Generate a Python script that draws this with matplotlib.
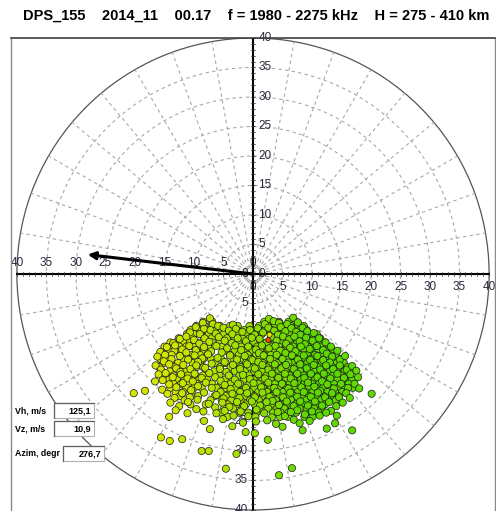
# Sky map of drift echoes
from matplotlib import pyplot as plt
from matplotlib.patches import Rectangle, Circle
from matplotlib.lines import Line2D
from matplotlib.colors import LinearSegmentedColormap
import numpy as np

# Header text
title = "DPS_155    2014_11    00.17    f = 1980 - 2275 kHz    H = 275 - 410 km"

# Grid values
rings = [5, 10, 15, 20, 25, 30, 35, 40]
ring_labels = [0, 5, 10, 15, 20, 25, 30, 35, 40]
spokes = [a for a in range(0, 360, 10) if a % 90 != 0]

# Drift result
vh = "125,1"
vz = "10,9"
azim = "276,7"
azim_deg = 276.7
arrow_len = 28.2

# Echo positions (x east, y north): dense rows of the core ...
echo_rows = [
    (-8.1, [-8.4, -6.9, 1.9, 3.2, 4.4, 6.0, 7.3]),
    (-8.8, [-9.6, -8.2, -7.0, -5.6, -3.9, -2.6, -0.6, 1.0, 2.5, 3.7, 5.1, 6.4, 7.6, 8.6]),
    (-9.5, [-10.6, -9.3, -8.0, -6.6, -5.3, -2.8, -1.5, -0.3, 0.9, 2.0, 3.2, 4.5, 5.6, 6.8, 7.9, 9.1]),
    (-10.2, [-11.2, -10.0, -8.9, -7.5, -5.0, -3.7, -2.4, -1.0, 0.2, 1.5, 3.9, 5.0, 6.2, 7.4, 8.5, 9.6, 10.8]),
    (-10.9, [-12.6, -11.4, -10.3, -8.3, -7.0, -4.4, -3.1, -1.8, -0.6, 0.8, 3.3, 4.5, 5.7, 6.8, 8.0, 9.1, 10.3, 11.4]),
    (-11.6, [-14.0, -12.9, -11.8, -10.7, -9.5, -6.9, -5.6, -2.5, -1.2, 0.1, 1.4, 3.8, 5.0, 6.3, 7.5, 8.6, 9.8, 11.0, 12.2]),
    (-12.3, [-15.0, -13.8, -12.5, -11.3, -10.1, -8.8, -7.6, -5.2, -2.0, -0.7, 0.7, 1.9, 3.1, 4.4, 5.6, 6.8, 8.1, 9.3, 10.5, 11.6, 12.8]),
    (-13.0, [-14.4, -13.3, -12.1, -9.6, -8.3, -4.6, -3.1, -1.6, -0.1, 1.2, 2.5, 3.7, 4.9, 6.2, 7.4, 8.7, 9.9, 11.1, 12.3, 13.5]),
    (-13.7, [-15.0, -13.8, -11.5, -10.3, -9.0, -7.7, -3.9, -2.4, -0.9, 0.5, 1.8, 3.0, 4.3, 5.5, 6.8, 8.0, 9.2, 10.5, 11.7, 12.9, 14.1]),
    (-14.4, [-15.7, -14.5, -12.0, -10.8, -8.4, -7.1, -5.4, -3.3, -1.7, -0.3, 1.1, 2.4, 3.6, 4.9, 6.1, 7.4, 8.6, 9.8, 11.1, 12.3, 13.5, 14.8]),
    (-15.1, [-15.2, -14.0, -12.7, -10.2, -9.0, -6.5, -4.6, -2.8, -1.2, 0.3, 1.7, 3.0, 4.2, 5.5, 6.7, 8.0, 9.2, 10.4, 11.7, 12.9, 14.2, 15.4]),
    (-15.8, [-15.9, -13.3, -12.1, -9.6, -8.4, -5.6, -3.8, -2.1, -0.6, 0.9, 2.3, 3.6, 4.9, 6.1, 7.3, 8.6, 9.8, 11.0, 12.3, 13.5, 14.8, 16.0]),
    (-16.5, [-15.4, -14.1, -11.6, -10.3, -7.9, -6.6, -3.1, -1.4, 0.2, 1.6, 3.0, 4.3, 5.5, 6.8, 8.0, 9.2, 10.5, 11.7, 13.0, 14.2, 15.5, 16.7]),
    (-17.2, [-14.8, -13.5, -11.0, -9.7, -8.5, -5.7, -4.0, -2.3, -0.7, 0.9, 2.3, 3.6, 4.9, 6.2, 7.4, 8.6, 9.9, 11.1, 12.4, 13.6, 14.9, 16.1]),
    (-17.9, [-14.2, -12.9, -11.6, -9.1, -7.8, -4.8, -1.5, 0.1, 1.6, 3.0, 4.3, 5.6, 6.8, 8.1, 9.3, 10.5, 13.0, 14.3, 15.5, 16.8]),
    (-18.6, [-13.5, -12.2, -10.9, -9.6, -6.9, -5.4, -3.8, -2.2, -0.6, 0.9, 2.4, 3.7, 5.0, 6.2, 7.5, 8.7, 10.0, 11.2, 13.7, 15.0, 16.2]),
    (-19.3, [-14.0, -11.3, -10.0, -8.7, -6.2, -4.6, -3.0, 0.2, 1.7, 3.1, 4.4, 5.7, 6.9, 8.2, 9.4, 10.7, 11.9, 13.1, 14.4, 15.6, 16.9]),
    (-20.0, [-13.1, -11.8, -10.4, -5.5, -3.8, -2.2, -0.6, 0.9, 2.4, 3.8, 5.1, 6.4, 7.6, 8.9, 10.1, 11.4, 12.6, 13.9, 15.1]),
    (-20.7, [-12.4, -9.3, -6.5, -4.6, -3.0, -1.4, 0.2, 1.7, 3.1, 4.5, 5.8, 7.0, 8.3, 9.5, 10.8, 12.0, 13.3, 14.5]),
    (-21.4, [-11.6, -7.2, -5.3, -3.7, -2.1, -0.5, 1.0, 2.5, 3.9, 5.2, 6.5, 7.7, 9.0, 10.2, 11.5, 12.7, 14.0]),
    (-22.1, [-10.6, -8.0, -4.3, -2.8, -1.2, 0.3, 1.8, 3.2, 4.6, 5.9, 7.2, 8.4, 9.7, 10.9, 12.2]),
    (-22.8, [-4.9, -3.4, -1.8, 1.1, 2.6, 4.0, 5.3, 6.6, 7.9, 9.1, 10.4, 11.6]),
    (-23.5, [-5.4, -2.3, -0.8, 0.6, 3.4, 4.7, 6.0, 7.3, 9.8, 11.1]),
    (-24.2, [-4.3, 0.4, 4.6, 5.9, 8.7, 10.1]),
]

# ... and scattered echoes all over the cloud
echo_points = [
    (-7.3, -7.5), (-8.5, -8.3), (-6.8, -8.5), (2.7, -7.6), (3.5, -8.0), (6.8, -7.4), (7.6, -8.2),
    (5.8, -8.5), (4.4, -8.3), (-3.4, -8.6), (2.0, -8.5), (-5.9, -8.8),
    (-9.7, -9.0), (-8.3, -9.3), (-7.2, -9.5), (-5.0, -9.1), (-4.1, -9.6), (-2.9, -9.3), (-1.8, -9.8),
    (-0.5, -9.5), (0.8, -9.2), (1.7, -9.9), (2.6, -9.1), (3.6, -9.6), (4.7, -9.0), (5.5, -9.7),
    (6.5, -9.2), (7.3, -9.8), (8.4, -9.1), (9.2, -9.7), (-10.7, -9.9), (-6.3, -10.1), (-3.5, -10.2),
    (0.3, -10.3), (4.2, -10.3), (8.0, -10.3), (10.3, -10.0), (-9.0, -10.2),
    (-12.4, -11.0), (-11.3, -10.6), (-10.0, -11.2), (-8.2, -10.9), (-7.4, -11.5), (-5.8, -10.7),
    (-4.8, -11.3), (-2.6, -10.9), (-1.2, -11.4), (-0.2, -10.8), (1.1, -11.0), (2.3, -11.6),
    (3.1, -10.7), (4.0, -11.3), (5.1, -10.6), (6.1, -11.1), (7.0, -10.6), (7.9, -11.4), (9.0, -10.8),
    (10.1, -11.3), (11.2, -10.9), (12.3, -11.6), (-13.5, -11.7), (-9.1, -11.8), (-3.6, -11.7),
    (5.6, -11.8), (8.8, -11.9),
    (-14.6, -12.4), (-13.2, -12.1), (-12.0, -12.8), (-10.8, -12.2), (-9.7, -12.9), (-8.3, -12.4),
    (-7.1, -13.1), (-6.2, -12.2), (-4.4, -12.6), (-3.0, -12.1), (-2.0, -12.9), (-0.8, -12.3),
    (0.5, -12.8), (1.5, -12.1), (2.7, -12.6), (3.8, -12.2), (4.6, -13.0), (6.3, -12.5), (7.2, -13.1),
    (8.1, -12.3), (9.6, -12.7), (10.8, -12.2), (11.9, -12.9), (13.2, -12.3), (14.3, -13.0),
    (-15.7, -13.2), (-11.3, -13.3), (-5.3, -13.3), (1.0, -13.4), (5.5, -13.4), (12.5, -13.5),
    (-16.2, -14.0), (-14.9, -13.7), (-13.8, -14.4), (-12.4, -13.9), (-11.0, -14.5), (-9.9, -13.8),
    (-8.6, -14.3), (-7.6, -13.6), (-6.0, -14.2), (-3.9, -13.8), (-2.7, -14.5), (-1.4, -13.9),
    (-0.1, -14.6), (1.8, -13.8), (2.9, -14.4), (4.0, -13.7), (5.0, -14.4), (6.6, -13.8), (7.6, -14.5),
    (8.6, -13.8), (9.7, -14.6), (10.9, -13.9), (11.9, -14.6), (13.4, -14.0), (14.7, -14.5),
    (15.6, -13.9), (-15.1, -14.8), (-9.3, -14.9), (-4.8, -14.9), (0.9, -14.9), (6.0, -15.0),
    (13.0, -15.0),
    (-16.5, -15.5), (-15.6, -16.2), (-14.2, -15.3), (-13.0, -16.0), (-11.8, -15.4), (-10.6, -16.1),
    (-9.6, -15.5), (-8.1, -15.9), (-7.0, -15.2), (-5.6, -16.1), (-3.4, -15.4), (-2.2, -16.1),
    (-1.0, -15.3), (0.3, -16.0), (1.6, -15.4), (2.6, -16.2), (3.7, -15.3), (4.8, -16.0), (5.6, -15.4),
    (6.9, -16.1), (8.0, -15.3), (9.1, -16.0), (10.3, -15.4), (11.4, -16.2), (12.4, -15.5),
    (13.6, -16.1), (14.7, -15.5), (15.9, -16.2), (16.8, -15.6), (-12.3, -16.6), (-4.5, -16.6),
    (17.5, -16.4),
    (-16.0, -17.0), (-14.8, -16.8), (-13.6, -17.5), (-12.2, -17.0), (-11.1, -17.7), (-9.9, -16.9),
    (-8.7, -17.6), (-7.4, -16.8), (-6.4, -17.5), (-4.1, -17.2), (-3.1, -17.9), (-1.7, -17.1),
    (-0.5, -17.8), (0.9, -17.0), (2.0, -17.7), (3.2, -16.9), (4.3, -17.6), (5.4, -16.9), (6.4, -17.7),
    (7.5, -16.9), (8.7, -17.6), (9.8, -16.9), (10.9, -17.5), (12.0, -16.9), (13.1, -17.7),
    (14.3, -16.9), (15.4, -17.6), (16.5, -17.0), (17.8, -17.5), (-15.3, -18.0), (-10.2, -18.2),
    (-5.5, -18.1), (11.7, -18.2),
    (-16.6, -18.2), (-14.2, -18.7), (-13.0, -19.2), (-11.9, -18.5), (-9.3, -19.0), (-8.0, -18.4),
    (-7.0, -19.3), (-4.8, -18.8), (-3.8, -19.5), (-2.5, -18.6), (-1.2, -19.3), (0.1, -18.5),
    (1.4, -19.2), (2.6, -18.4), (3.6, -19.3), (4.9, -18.6), (6.0, -19.4), (7.0, -18.5), (8.2, -19.2),
    (9.3, -18.4), (10.4, -19.1), (12.6, -18.7), (13.7, -19.4), (14.9, -18.6), (16.1, -19.3),
    (17.2, -18.6), (18.0, -19.4), (-15.4, -19.6), (-10.5, -19.7), (11.4, -19.8),
    (-20.2, -20.2), (-18.3, -19.8), (-14.5, -20.3), (-13.3, -21.0), (-12.0, -20.2), (-10.7, -20.9),
    (-8.3, -20.1), (-6.2, -20.5), (-5.0, -21.1), (-3.5, -20.3), (-2.3, -21.0), (-1.0, -20.2),
    (0.3, -20.9), (1.6, -20.1), (2.8, -20.8), (4.0, -20.0), (5.1, -20.9), (6.3, -20.1), (7.5, -20.8),
    (8.6, -20.0), (9.8, -20.8), (11.0, -20.1), (12.2, -20.9), (13.4, -20.2), (14.6, -20.9),
    (15.8, -20.2), (16.4, -21.0), (20.1, -20.3), (-9.4, -21.3), (3.3, -21.5),
    (-14.0, -21.8), (-12.5, -22.4), (-11.0, -21.7), (-7.5, -22.0), (-6.4, -22.6), (-5.2, -21.8),
    (-4.0, -22.5), (-2.7, -21.7), (-1.5, -22.4), (-0.2, -21.6), (1.2, -22.3), (2.3, -21.7),
    (4.4, -22.2), (5.7, -21.6), (6.9, -22.4), (8.0, -21.6), (9.3, -22.3), (10.5, -21.6),
    (11.7, -22.3), (12.9, -21.7), (14.1, -22.4), (15.2, -21.8), (-9.6, -22.9), (-13.1, -23.1),
    (-8.4, -23.3), (0.6, -23.0), (7.5, -23.1), (13.2, -23.2),
    (-11.1, -23.6), (-6.2, -23.6), (-4.8, -23.2), (-3.3, -24.0), (-2.1, -23.3), (-0.8, -24.1),
    (1.9, -23.6), (3.2, -24.3), (4.2, -23.4), (5.4, -24.1), (6.4, -23.4), (8.8, -23.8),
    (10.0, -23.3), (11.3, -24.0), (12.4, -23.5), (14.2, -24.0), (-14.2, -24.2), (-8.3, -24.9),
    (-5.1, -24.6), (2.4, -24.8), (6.9, -24.7), (9.6, -24.9),
    (-1.7, -25.2), (0.5, -25.0), (3.9, -25.4), (5.0, -25.9), (7.9, -25.3), (8.4, -26.5),
    (12.5, -26.2), (13.9, -25.3), (16.8, -26.5), (-7.3, -26.3), (-1.25, -26.8), (0.3, -27.0),
    (-3.5, -25.8),
    (-15.6, -27.7), (-14.1, -28.3), (-12.0, -28.0), (-8.7, -30.0), (-7.5, -30.0), (-2.8, -30.5),
    (2.5, -28.1), (-4.6, -33.0), (4.4, -34.1), (6.6, -32.9),
]
odd_x = [2.6, 2.8]
odd_y = [-11.2, -10.3]
odd_c = ["#e04a00", "#e8e000"]

echo_x = [x for y, xs in echo_rows for x in xs] + [p[0] for p in echo_points]
echo_y = [y for y, xs in echo_rows for x in xs] + [p[1] for p in echo_points]

W, H = 496, 511
fig = plt.figure(figsize=(W / 100, H / 100), dpi=100)

# frame (axes area in pixels: x 11..495, y 38..511)
ax = fig.add_axes([11 / W, 0, 484 / W, 473 / H])
ax.set_xlim(-41.0, 41.0)
ax.set_ylim(-40.17, 40.0)
ax.set_xticks([])
ax.set_yticks([])
for side in ["left", "right"]:
    ax.spines[side].set_color("#8a8a8a")
    ax.spines[side].set_linewidth(1.0)
ax.spines["top"].set_color("#404040")
ax.spines["top"].set_linewidth(1.2)
ax.spines["bottom"].set_visible(False)

grid_kw = dict(color="#a8a8a8", lw=0.8, linestyle=(0, (3, 3)), zorder=1)

# rings
for r in rings[:-1]:
    ax.add_patch(Circle((0, 0), r, fill=False, **grid_kw))
ax.add_patch(Circle((0, 0), rings[-1], fill=False, color="#555555", lw=0.9, zorder=1))

# spokes, angle from north clockwise
for a in spokes:
    t = np.deg2rad(a)
    ax.plot([0, 40 * np.sin(t)], [0, 40 * np.cos(t)], **grid_kw)

# main axes
ax.plot([-40, 40], [0, 0], color="black", lw=1.5, zorder=3)
ax.plot([0, 0], [-40.5, 40], color="black", lw=1.5, zorder=3)
for k in range(-40, 41):
    ax.plot([k, k], [-0.35, 0.35], color="#333333", lw=0.5, zorder=3)
    ax.plot([-0.35, 0.35], [k, k], color="#333333", lw=0.5, zorder=3)

# axis numbers
lab_kw = dict(fontsize=8.5, color="#2a2a3c", family="Liberation Sans", zorder=2)
for r in ring_labels:
    s = str(r)
    ax.text(0.9, r, s, ha="left", va="center", clip_on=False, **lab_kw)
    ax.text(-0.9, -r, s, ha="right", va="center", **lab_kw)
    ax.text(r, -2.2, s, ha="center", va="center", **lab_kw)
    ax.text(-r, 1.9, s, ha="center", va="center", **lab_kw)

# echoes
cmap = LinearSegmentedColormap.from_list("echo", ["#d4e600", "#a6e000", "#5ed800"])
ax.scatter(echo_x, echo_y, c=echo_x, cmap=cmap, vmin=-15, vmax=9, s=27,
           edgecolors="#1a1a1a", linewidths=0.5, zorder=4)
ax.scatter(odd_x, odd_y, c=odd_c, s=14, edgecolors="#1a1a1a", linewidths=0.5, zorder=5)

# drift arrow
t = np.deg2rad(azim_deg)
ax.annotate("", xy=(arrow_len * np.sin(t), arrow_len * np.cos(t)), xytext=(0, 0),
            arrowprops=dict(arrowstyle="-|>", color="black", lw=2.2, mutation_scale=11,
                            shrinkA=0, shrinkB=0), zorder=6)

# header
fig.text(256 / W, 1 - 16 / H, title, ha="center", va="center", fontsize=10.5,
         fontweight="bold", family="Liberation Sans")

# value boxes
def box(x0, y0, x1, y1, value):
    fx, fy = x0 / W, 1 - y1 / H
    fig.patches.append(Rectangle((fx, fy), (x1 - x0) / W, (y1 - y0) / H,
                                 transform=fig.transFigure, facecolor="white",
                                 edgecolor="#b0b0b0", lw=0.8, zorder=10))
    fig.lines.append(Line2D([x0 / W, x0 / W, x1 / W], [1 - y1 / H, 1 - y0 / H, 1 - y0 / H],
                            transform=fig.transFigure, color="#606060", lw=0.9, zorder=11))
    fig.text((x1 - 3) / W, 1 - (y0 + y1) / 2 / H, value, ha="right", va="center",
             fontsize=6.5, fontweight="bold", family="Liberation Sans", zorder=12)

info_kw = dict(ha="left", va="center", fontsize=6.3, fontweight="bold", family="Liberation Sans")
fig.text(15 / W, 1 - 411 / H, "Vh, m/s", **info_kw)
box(54, 403, 94, 418, vh)
fig.text(15 / W, 1 - 429 / H, "Vz, m/s", **info_kw)
box(54, 421, 94, 436, vz)
fig.text(15 / W, 1 - 453 / H, "Azim, degr", **info_kw)
box(63, 446, 104, 461, azim)

plt.savefig("out.png", dpi=100)
